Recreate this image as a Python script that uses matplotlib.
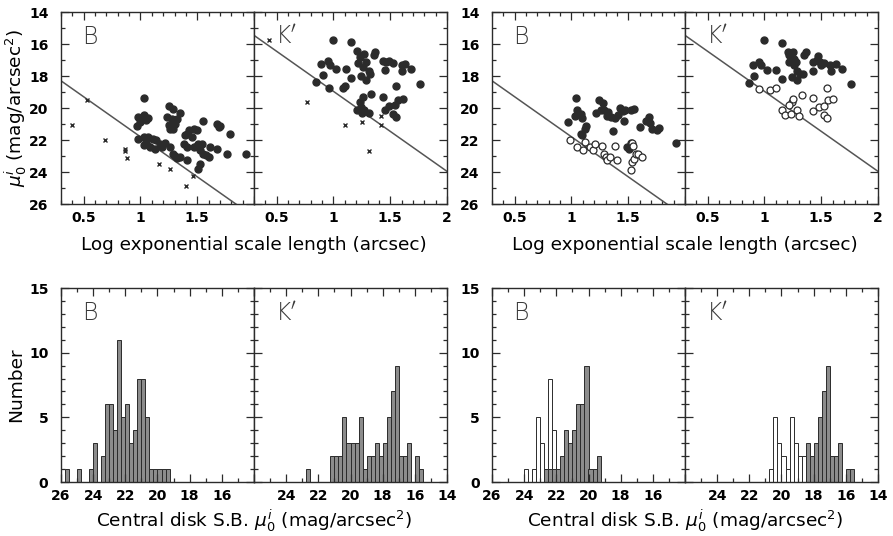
import matplotlib
matplotlib.use("Agg")
import matplotlib.pyplot as plt
from matplotlib.ticker import MultipleLocator, FuncFormatter
import numpy as np

# ---------------- scatter data: central S.B. vs log scale length ----------------
# left pair: filled = sample, crosses = rejected objects
lb_x = [1.03, 1.25, 1.29, 0.98, 1.03, 1.07, 1.00, 0.97, 1.05, 1.35, 1.23, 1.28, 1.32, 1.25,
        1.30, 1.26, 1.29, 1.43, 1.41, 1.47, 1.50, 1.55, 1.39, 1.45, 1.67, 1.69, 1.70, 1.79,
        0.98, 1.03, 1.07, 1.11, 1.14, 1.05, 1.03, 1.08, 1.13, 1.17, 1.22, 1.19, 1.38, 1.41,
        1.47, 1.50, 1.51, 1.54, 1.52, 1.55, 1.58, 1.60, 1.61, 1.67, 1.76, 1.26, 1.29, 1.30,
        1.32, 1.35, 1.41, 1.52, 1.51, 1.93]
lb_y = [19.35, 19.90, 20.04, 20.56, 20.46, 20.60, 20.88, 21.15, 20.77, 20.31, 20.56, 20.67, 20.67, 21.08,
        21.02, 21.29, 21.29, 21.40, 21.60, 21.29, 21.40, 20.81, 21.71, 21.81, 20.98, 21.19, 21.15, 21.60,
        21.92, 21.81, 21.81, 21.92, 22.02, 22.13, 22.33, 22.44, 22.54, 22.23, 22.19, 22.44, 22.23, 22.44,
        22.44, 22.40, 22.23, 22.23, 22.65, 22.85, 22.96, 23.06, 22.44, 22.54, 22.85, 22.44, 22.85, 23.02,
        23.10, 23.06, 23.27, 23.48, 23.79, 22.85]
lb_cross_x = [0.40, 0.53, 0.69, 0.86, 0.86, 0.88, 1.16, 1.26, 1.40, 1.46]
lb_cross_y = [21.08, 19.48, 22.02, 22.54, 22.71, 23.13, 23.52, 23.83, 24.88, 24.27]

lk_x = [1.00, 1.15, 0.89, 0.95, 0.97, 1.02, 0.91, 0.85, 0.96, 1.11, 1.08, 1.10, 1.15, 1.21,
        1.27, 1.23, 1.29, 1.22, 1.26, 1.24, 1.31, 1.32, 1.29, 1.37, 1.36, 1.44, 1.46, 1.49,
        1.52, 1.45, 1.60, 1.60, 1.26, 1.23, 1.24, 1.21, 1.25, 1.27, 1.31, 1.33, 1.44, 1.45,
        1.49, 1.54, 1.57, 1.61, 1.55, 1.52, 1.55, 1.68, 1.76, 1.63]
lk_y = [15.73, 15.88, 17.23, 17.08, 17.33, 17.58, 17.96, 18.38, 18.73, 17.54, 18.73, 18.65, 18.10, 16.44,
        16.60, 16.81, 17.13, 17.19, 17.44, 18.02, 17.69, 17.85, 18.27, 16.50, 16.71, 17.08, 17.13, 17.06,
        17.19, 17.65, 17.71, 17.33, 19.31, 19.63, 19.94, 20.15, 20.31, 20.15, 20.31, 19.15, 19.31, 20.15,
        19.90, 19.83, 19.48, 19.44, 18.65, 20.40, 20.56, 17.54, 18.48, 17.23]
lk_cross_x = [0.43, 0.77, 1.10, 1.25, 1.31, 1.42, 1.42]
lk_cross_y = [15.73, 19.63, 21.08, 20.88, 22.69, 21.08, 20.52]

# right pair: filled = high S.B., open = low S.B.
rb_hsb_x = [0.97, 1.03, 1.04, 1.05, 1.08, 1.09, 1.08, 1.09, 1.12, 1.13, 1.24, 1.28, 1.29, 1.32,
            1.31, 1.35, 1.38, 1.41, 1.43, 1.45, 1.47, 1.52, 1.55, 1.37, 1.46, 1.60, 1.66, 1.68,
            1.69, 1.71, 1.75, 1.77, 1.49, 1.51, 1.52, 1.26, 1.22, 1.92]
rb_hsb_y = [20.90, 20.50, 19.35, 20.15, 20.35, 20.60, 21.60, 21.70, 21.30, 21.15, 19.50, 19.70, 20.15, 20.25,
            20.50, 20.55, 20.65, 20.45, 20.00, 20.20, 20.15, 20.15, 20.05, 21.45, 20.80, 21.20, 20.80, 20.55,
            20.95, 21.30, 21.40, 21.25, 22.45, 22.55, 22.20, 20.10, 20.30, 22.20]
rb_lsb_x = [0.99, 1.05, 1.10, 1.12, 1.16, 1.19, 1.21, 1.27, 1.29, 1.30, 1.31, 1.34, 1.38, 1.40,
            1.52, 1.53, 1.55, 1.57, 1.59, 1.62, 1.53, 1.54]
rb_lsb_y = [22.00, 22.45, 22.60, 22.10, 22.45, 22.60, 22.25, 22.40, 22.85, 23.05, 23.25, 23.05, 22.40, 23.25,
            23.90, 23.40, 23.20, 22.90, 22.85, 23.05, 22.20, 22.40]

rk_hsb_x = [1.00, 1.15, 0.90, 0.95, 0.97, 1.02, 0.91, 0.86, 1.10, 1.15, 1.21, 1.25, 1.22, 1.26,
            1.28, 1.22, 1.26, 1.24, 1.29, 1.31, 1.29, 1.34, 1.37, 1.35, 1.43, 1.46, 1.47, 1.49,
            1.52, 1.50, 1.43, 1.59, 1.58, 1.63, 1.68, 1.76]
rk_hsb_y = [15.77, 15.94, 17.33, 17.13, 17.33, 17.65, 18.02, 18.44, 17.60, 18.17, 16.50, 16.50, 16.71, 16.92,
            17.13, 17.13, 17.33, 18.06, 17.71, 17.85, 18.27, 17.90, 16.50, 16.71, 17.13, 17.02, 16.77, 17.13,
            17.19, 17.29, 17.71, 17.69, 17.29, 17.23, 17.54, 18.48]
rk_lsb_x = [0.95, 1.05, 1.10, 1.15, 1.18, 1.23, 1.24, 1.22, 1.25, 1.29, 1.30, 1.33, 1.43, 1.43,
            1.48, 1.52, 1.56, 1.60, 1.55, 1.52, 1.55]
rk_lsb_y = [18.79, 18.85, 18.73, 20.15, 20.42, 20.35, 19.63, 19.83, 19.42, 20.15, 20.50, 19.21, 19.35, 20.19,
            19.94, 19.90, 19.52, 19.46, 18.73, 20.46, 20.60]

# selection limit lines: mu0 = a + b * log h
b_limit = (16.8, 5.0)
k_limit = (13.96, 5.0)

# ---------------- histograms: bin (lower mag edge) and counts, 0.25 mag bins ----------------
hb_all_bin = [25.5, 24.75, 24.0, 23.75, 23.25, 23.0, 22.75, 22.5, 22.25, 22.0, 21.75, 21.5, 21.25,
              21.0, 20.75, 20.5, 20.25, 20.0, 19.75, 19.5, 19.25]
hb_all_n = [1, 1, 1, 3, 2, 6, 6, 4, 11, 5, 6, 3, 4, 8, 8, 5, 1, 1, 1, 1, 1]
hk_all_bin = [22.5, 21.0, 20.75, 20.5, 20.25, 20.0, 19.75, 19.5, 19.25, 19.0, 18.75, 18.5, 18.25,
              18.0, 17.75, 17.5, 17.25, 17.0, 16.75, 16.5, 16.25, 15.75, 15.5]
hk_all_n = [1, 2, 2, 2, 5, 3, 3, 3, 5, 1, 2, 2, 3, 2, 3, 5, 7, 9, 2, 2, 3, 2, 1]

hb_lsb_bin = [23.75, 23.25, 23.0, 22.75, 22.5, 22.25, 22.0]
hb_lsb_n = [1, 1, 5, 3, 1, 8, 4]
hb_hsb_bin = [22.5, 22.25, 22.0, 21.75, 21.5, 21.25, 21.0, 20.75, 20.5, 20.25, 20.0, 19.75, 19.5, 19.25]
hb_hsb_n = [1, 1, 1, 1, 2, 4, 3, 4, 6, 6, 9, 1, 1, 2]
hk_lsb_bin = [20.5, 20.25, 20.0, 19.75, 19.5, 19.25, 19.0, 18.75, 18.5, 18.25]
hk_lsb_n = [1, 5, 3, 2, 1, 5, 3, 2, 2, 2]
hk_hsb_bin = [18.25, 18.0, 17.75, 17.5, 17.25, 17.0, 16.75, 16.5, 16.25, 15.75, 15.5]
hk_hsb_n = [3, 2, 3, 5, 7, 9, 2, 2, 3, 1, 1]

INK = "#2b2b2b"
BAR = "#8c8c8c"
TICKFONT = dict(family="DejaVu Sans", weight="bold", size=10)
LABSIZE = 13.3

fig = plt.figure(figsize=(8.93, 5.36), dpi=100)
W, H = 893.0, 536.0


def make_ax(x0, x1, ytop, ybot):
    return fig.add_axes([x0 / W, 1 - ybot / H, (x1 - x0) / W, (ybot - ytop) / H])


def frame(ax, xmaj, xmin, ymaj, ymin, hide_x=(), show_y=True):
    ax.xaxis.set_major_locator(MultipleLocator(xmaj))
    ax.xaxis.set_minor_locator(MultipleLocator(xmin))
    ax.yaxis.set_major_locator(MultipleLocator(ymaj))
    ax.yaxis.set_minor_locator(MultipleLocator(ymin))
    ax.xaxis.set_major_formatter(FuncFormatter(
        lambda v, p: "" if any(abs(v - h) < 1e-6 for h in hide_x) else "%g" % v))
    ax.tick_params(which="both", direction="in", top=True, right=True,
                   color=INK, width=0.9, labelleft=show_y)
    ax.tick_params(which="major", length=6)
    ax.tick_params(which="minor", length=3)
    ax.tick_params(axis="x", pad=5)
    ax.tick_params(axis="y", pad=9)
    for lab in ax.get_xticklabels() + ax.get_yticklabels():
        lab.set(**TICKFONT)
    for s in ax.spines.values():
        s.set_linewidth(1.0)
        s.set_color(INK)


def band_label(ax, txt):
    ax.text(0.11, 0.87, txt, transform=ax.transAxes, fontsize=17, color="#3a3a3a",
            fontweight="light", family="DejaVu Sans", va="center", ha="left")


def scatter_panel(ax, limit, name):
    ax.set_xlim(0.3, 2.0)
    ax.set_ylim(26, 14)
    xs = np.array([0.3, 2.0])
    ax.plot(xs, limit[0] + limit[1] * xs, color="#555555", lw=1.1)
    band_label(ax, name)


def hist_panel(ax, name):
    ax.set_xlim(26, 14)
    ax.set_ylim(0, 15)
    band_label(ax, name)


def bars(ax, lo, n, filled):
    ax.bar(np.array(lo) + 0.125, n, width=0.25,
           color=BAR if filled else "white", edgecolor=INK, linewidth=0.7)


groups = [(61, 254, 447), (492, 685, 878)]
TOP = (12, 204)
BOT = (288, 482)

# ---- top left pair ----
g = groups[0]
ax = make_ax(g[0], g[1], *TOP)
scatter_panel(ax, b_limit, "B")
ax.plot(lb_x, lb_y, "o", ms=5, color=INK, mec=INK)
ax.plot(lb_cross_x, lb_cross_y, "x", ms=3.5, mew=1.0, color=INK)
frame(ax, 0.5, 0.1, 2, 1, hide_x=(2.0,))

ax = make_ax(g[1], g[2], *TOP)
scatter_panel(ax, k_limit, "K$'$")
ax.plot(lk_x, lk_y, "o", ms=5, color=INK, mec=INK)
ax.plot(lk_cross_x, lk_cross_y, "x", ms=3.5, mew=1.0, color=INK)
frame(ax, 0.5, 0.1, 2, 1, show_y=False)

# ---- top right pair ----
g = groups[1]
ax = make_ax(g[0], g[1], *TOP)
scatter_panel(ax, b_limit, "B")
ax.plot(rb_hsb_x, rb_hsb_y, "o", ms=5, color=INK, mec=INK)
ax.plot(rb_lsb_x, rb_lsb_y, "o", ms=5, mfc="white", mec=INK, mew=0.9)
frame(ax, 0.5, 0.1, 2, 1, hide_x=(2.0,))

ax = make_ax(g[1], g[2], *TOP)
scatter_panel(ax, k_limit, "K$'$")
ax.plot(rk_hsb_x, rk_hsb_y, "o", ms=5, color=INK, mec=INK)
ax.plot(rk_lsb_x, rk_lsb_y, "o", ms=5, mfc="white", mec=INK, mew=0.9)
frame(ax, 0.5, 0.1, 2, 1, show_y=False)

# ---- bottom left pair ----
g = groups[0]
ax = make_ax(g[0], g[1], *BOT)
hist_panel(ax, "B")
bars(ax, hb_all_bin, hb_all_n, True)
frame(ax, 2, 1, 5, 1, hide_x=(14,))

ax = make_ax(g[1], g[2], *BOT)
hist_panel(ax, "K$'$")
bars(ax, hk_all_bin, hk_all_n, True)
frame(ax, 2, 1, 5, 1, hide_x=(26,), show_y=False)

# ---- bottom right pair ----
g = groups[1]
ax = make_ax(g[0], g[1], *BOT)
hist_panel(ax, "B")
bars(ax, hb_lsb_bin, hb_lsb_n, False)
bars(ax, hb_hsb_bin, hb_hsb_n, True)
frame(ax, 2, 1, 5, 1, hide_x=(14,))

ax = make_ax(g[1], g[2], *BOT)
hist_panel(ax, "K$'$")
bars(ax, hk_lsb_bin, hk_lsb_n, False)
bars(ax, hk_hsb_bin, hk_hsb_n, True)
frame(ax, 2, 1, 5, 1, hide_x=(26,), show_y=False)

# y labels (left pair only)
fig.text(16 / W, 1 - 108 / H, r"$\mu_0^i$ (mag/arcsec$^2$)", rotation=90,
         ha="center", va="center", fontsize=LABSIZE)
fig.text(16 / W, 1 - 385 / H, "Number", rotation=90,
         ha="center", va="center", fontsize=LABSIZE)

# shared x labels for each pair
for g in groups:
    cx = (g[0] + g[2]) / 2.0 / W
    fig.text(cx, 1 - 245 / H, "Log exponential scale length (arcsec)",
             ha="center", va="center", fontsize=LABSIZE)
    fig.text(cx, 1 - 521 / H, r"Central disk S.B. $\mu_0^i$ (mag/arcsec$^2$)",
             ha="center", va="center", fontsize=LABSIZE)

fig.savefig("out.png", dpi=100, facecolor="white")
